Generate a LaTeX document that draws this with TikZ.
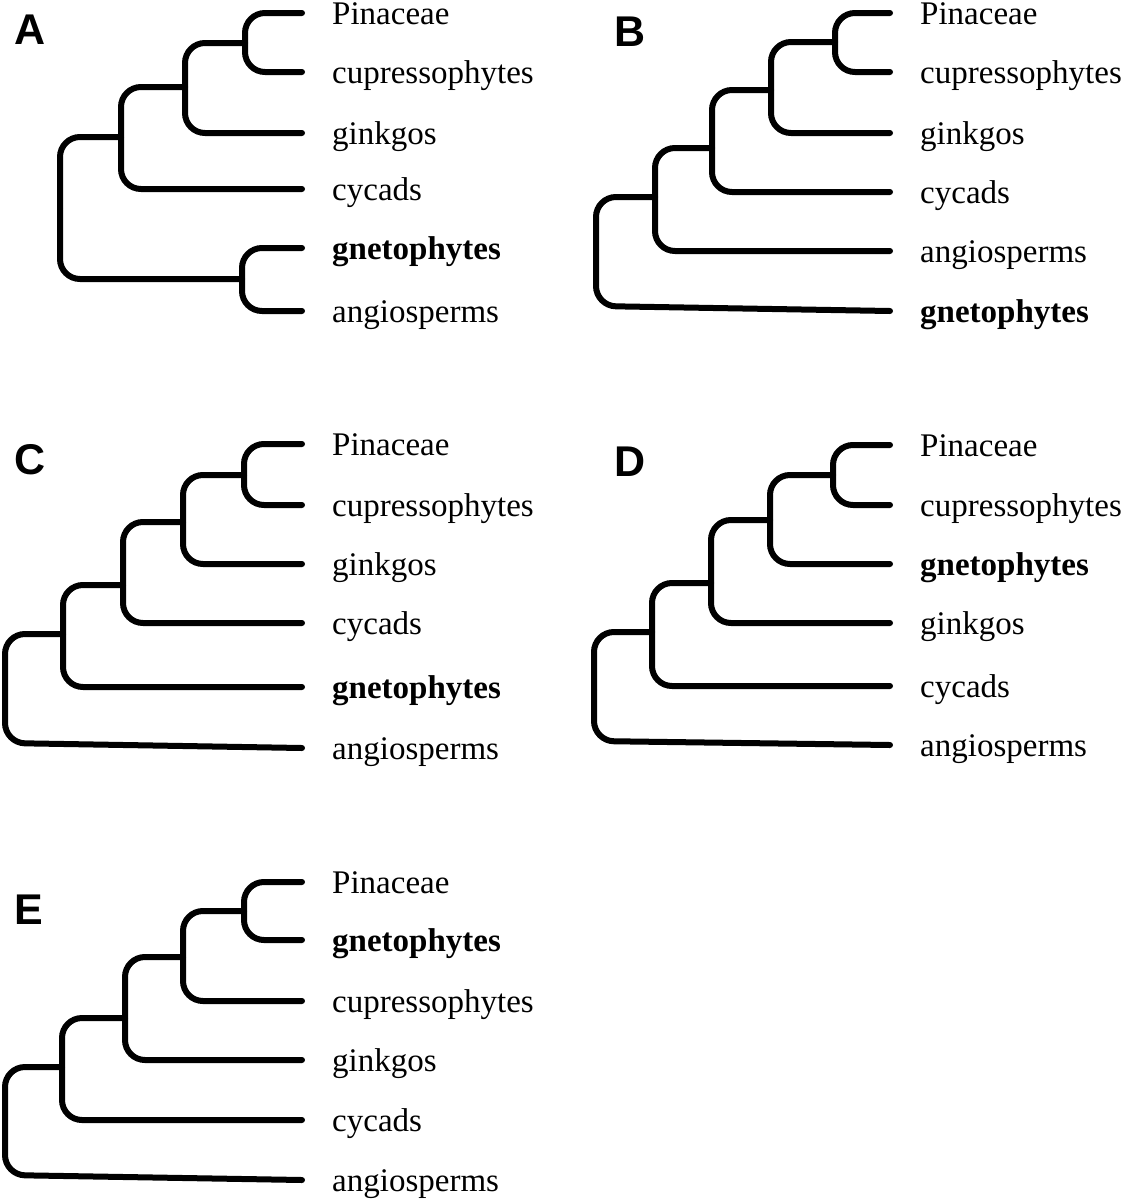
\documentclass[tikz,border=0pt]{standalone}
\usepackage{fontspec}
\setmainfont{Liberation Serif}
\newfontfamily\tagfont{Liberation Sans}
\usetikzlibrary{positioning}

\tikzset{
  branch/.style={line width=6pt,line cap=round,rounded corners=20pt},
  taxon/.style={inner sep=0pt,text height=27pt,text depth=4pt,font=\fontsize{33}{39}\selectfont},
  keytaxon/.style={taxon,font=\fontsize{33}{39}\selectfont\bfseries},
  paneltag/.style={inner sep=0pt,font=\tagfont\bfseries\fontsize{43}{48}\selectfont},
}

\begin{document}
\begin{tikzpicture}[x=1pt,y=-1pt,node distance=30pt]
\useasboundingbox (0,0) rectangle (1124,1200);

%A
\node[paneltag] (tagA) at (30,30) {A};
\coordinate (a1) at (302,13);
\coordinate (a2) at (302,72);
\coordinate (a3) at (302,133);
\coordinate (a4) at (302,189);
\coordinate (a5) at (302,248);
\coordinate (a6) at (302,311);
\node[taxon,right=of a1] (ta1) {Pinaceae};
\node[taxon,right=of a2] (ta2) {cupressophytes};
\node[taxon,right=of a3] (ta3) {ginkgos};
\node[taxon,right=of a4] (ta4) {cycads};
\node[keytaxon,right=of a5] (ta5) {gnetophytes};
\node[taxon,right=of a6] (ta6) {angiosperms};
\coordinate (nA1) at (245,43);
\coordinate (nA2) at (185,87);
\coordinate (nA3) at (121,137);
\coordinate (nA4) at (242,279);
\coordinate (rA) at (60,208);
\draw[branch] (nA1) |- (a1);
\draw[branch] (nA1) |- (a2);
\draw[branch] (nA2) |- (nA1);
\draw[branch] (nA2) |- (a3);
\draw[branch] (nA3) |- (nA2);
\draw[branch] (nA3) |- (a4);
\draw[branch] (nA4) |- (a5);
\draw[branch] (nA4) |- (a6);
\draw[branch] (rA) |- (nA3);
\draw[branch] (rA) |- (nA4);

%B
\node[paneltag] (tagB) at (630,32) {B};
\coordinate (b1) at (890,13);
\coordinate (b2) at (890,72);
\coordinate (b3) at (890,133);
\coordinate (b4) at (890,192);
\coordinate (b5) at (890,251);
\coordinate (b6) at (890,311);
\node[taxon,right=of b1] (tb1) {Pinaceae};
\node[taxon,right=of b2] (tb2) {cupressophytes};
\node[taxon,right=of b3] (tb3) {ginkgos};
\node[taxon,right=of b4] (tb4) {cycads};
\node[taxon,right=of b5] (tb5) {angiosperms};
\node[keytaxon,right=of b6] (tb6) {gnetophytes};
\coordinate (nB1) at (835,42);
\coordinate (nB2) at (771,90);
\coordinate (nB3) at (712,148);
\coordinate (nB4) at (655,197);
\coordinate (rB) at (596,250);
\coordinate (rBk) at (596,306);
\draw[branch] (nB1) |- (b1);
\draw[branch] (nB1) |- (b2);
\draw[branch] (nB2) |- (nB1);
\draw[branch] (nB2) |- (b3);
\draw[branch] (nB3) |- (nB2);
\draw[branch] (nB3) |- (b4);
\draw[branch] (nB4) |- (nB3);
\draw[branch] (nB4) |- (b5);
\draw[branch] (rB) |- (nB4);
\draw[branch] (rB) -- (rBk) -- (b6);

%C
\node[paneltag] (tagC) at (30,460) {C};
\coordinate (c1) at (302,444);
\coordinate (c2) at (302,505);
\coordinate (c3) at (302,564);
\coordinate (c4) at (302,623);
\coordinate (c5) at (302,687);
\coordinate (c6) at (302,748);
\node[taxon,right=of c1] (tc1) {Pinaceae};
\node[taxon,right=of c2] (tc2) {cupressophytes};
\node[taxon,right=of c3] (tc3) {ginkgos};
\node[taxon,right=of c4] (tc4) {cycads};
\node[keytaxon,right=of c5] (tc5) {gnetophytes};
\node[taxon,right=of c6] (tc6) {angiosperms};
\coordinate (nC1) at (244,475);
\coordinate (nC2) at (183,522);
\coordinate (nC3) at (123,585);
\coordinate (nC4) at (63,634);
\coordinate (rC) at (5,690);
\coordinate (rCk) at (5,743);
\draw[branch] (nC1) |- (c1);
\draw[branch] (nC1) |- (c2);
\draw[branch] (nC2) |- (nC1);
\draw[branch] (nC2) |- (c3);
\draw[branch] (nC3) |- (nC2);
\draw[branch] (nC3) |- (c4);
\draw[branch] (nC4) |- (nC3);
\draw[branch] (nC4) |- (c5);
\draw[branch] (rC) |- (nC4);
\draw[branch] (rC) -- (rCk) -- (c6);

%D
\node[paneltag] (tagD) at (630,462) {D};
\coordinate (d1) at (890,445);
\coordinate (d2) at (890,505);
\coordinate (d3) at (890,564);
\coordinate (d4) at (890,623);
\coordinate (d5) at (890,686);
\coordinate (d6) at (890,745);
\node[taxon,right=of d1] (td1) {Pinaceae};
\node[taxon,right=of d2] (td2) {cupressophytes};
\node[keytaxon,right=of d3] (td3) {gnetophytes};
\node[taxon,right=of d4] (td4) {ginkgos};
\node[taxon,right=of d5] (td5) {cycads};
\node[taxon,right=of d6] (td6) {angiosperms};
\coordinate (nD1) at (833,475);
\coordinate (nD2) at (770,520);
\coordinate (nD3) at (711,583);
\coordinate (nD4) at (652,632);
\coordinate (rD) at (594,690);
\coordinate (rDk) at (594,741);
\draw[branch] (nD1) |- (d1);
\draw[branch] (nD1) |- (d2);
\draw[branch] (nD2) |- (nD1);
\draw[branch] (nD2) |- (d3);
\draw[branch] (nD3) |- (nD2);
\draw[branch] (nD3) |- (d4);
\draw[branch] (nD4) |- (nD3);
\draw[branch] (nD4) |- (d5);
\draw[branch] (rD) |- (nD4);
\draw[branch] (rD) -- (rDk) -- (d6);

%E
\node[paneltag] (tagE) at (29,910) {E};
\coordinate (e1) at (302,882);
\coordinate (e2) at (302,940);
\coordinate (e3) at (302,1001);
\coordinate (e4) at (302,1060);
\coordinate (e5) at (302,1120);
\coordinate (e6) at (302,1180);
\node[taxon,right=of e1] (te1) {Pinaceae};
\node[keytaxon,right=of e2] (te2) {gnetophytes};
\node[taxon,right=of e3] (te3) {cupressophytes};
\node[taxon,right=of e4] (te4) {ginkgos};
\node[taxon,right=of e5] (te5) {cycads};
\node[taxon,right=of e6] (te6) {angiosperms};
\coordinate (nE1) at (244,911);
\coordinate (nE2) at (183,957);
\coordinate (nE3) at (125,1018);
\coordinate (nE4) at (62,1067);
\coordinate (rE) at (5,1120);
\coordinate (rEk) at (5,1175);
\draw[branch] (nE1) |- (e1);
\draw[branch] (nE1) |- (e2);
\draw[branch] (nE2) |- (nE1);
\draw[branch] (nE2) |- (e3);
\draw[branch] (nE3) |- (nE2);
\draw[branch] (nE3) |- (e4);
\draw[branch] (nE4) |- (nE3);
\draw[branch] (nE4) |- (e5);
\draw[branch] (rE) |- (nE4);
\draw[branch] (rE) -- (rEk) -- (e6);

\end{tikzpicture}
\end{document}
